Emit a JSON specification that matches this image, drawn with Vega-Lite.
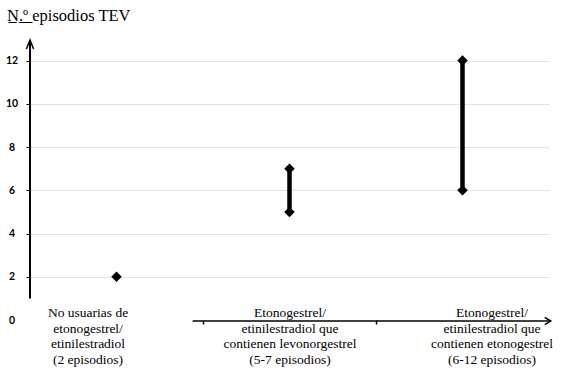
{
  "$schema": "https://vega.github.io/schema/vega-lite/v6.json",
  "width": 519,
  "height": 281,
  "autosize": "none",
  "padding": {"left": 30, "top": 39, "right": 20, "bottom": 61},
  "background": "white",
  "config": {"view": {"stroke": null}},
  "title": {
    "text": "N̲.̲º̲ episodios TEV",
    "anchor": "start",
    "frame": "group",
    "font": "Liberation Serif",
    "fontSize": 16.5,
    "fontWeight": "normal",
    "color": "black",
    "baseline": "alphabetic",
    "dx": -23,
    "offset": 0
  },
  "datasets": {
    "episodios": [
      {"grupo": "No usuarias", "episodios": 2},
      {"grupo": "Levonorgestrel", "episodios": 5},
      {"grupo": "Levonorgestrel", "episodios": 7},
      {"grupo": "Etonogestrel", "episodios": 6},
      {"grupo": "Etonogestrel", "episodios": 12}
    ],
    "etiquetas": [
      {"grupo": "No usuarias", "l1": "No usuarias de", "l2": "etonogestrel/", "l3": "etinilestradiol", "l4": "(2 episodios)"},
      {"grupo": "Levonorgestrel", "l1": "Etonogestrel/", "l2": "etinilestradiol que", "l3": "contienen levonorgestrel", "l4": "(5-7 episodios)"},
      {"grupo": "Etonogestrel", "l1": "Etonogestrel/", "l2": "etinilestradiol que", "l3": "contienen etonogestrel", "l4": "(6-12 episodios)"}
    ]
  },
  "data": {"name": "episodios"},
  "layer": [
    {
      "layer": [
        {
          "mark": {"type": "rule", "stroke": "black", "strokeWidth": 4.5},
          "encoding": {
            "x": {
              "field": "grupo",
              "type": "nominal",
              "sort": null,
              "scale": {"paddingInner": 0, "paddingOuter": 0},
              "axis": {
                "title": null,
                "domain": false,
                "bandPosition": 0,
                "ticks": true,
                "tickSize": 4,
                "tickWidth": 1.5,
                "tickColor": "black",
                "tickOpacity": {"condition": {"test": "datum.index == 0", "value": 0}, "value": 1},
                "labels": false
              }
            },
            "y": {
              "aggregate": "min",
              "field": "episodios",
              "type": "quantitative",
              "title": null,
              "scale": {"domain": [0, 13], "nice": false, "zero": true},
              "axis": {
                "title": null,
                "values": [0, 2, 4, 6, 8, 10, 12],
                "domain": false,
                "grid": true,
                "gridColor": "#e3e3e3",
                "gridWidth": 1,
                "gridOpacity": {"condition": {"test": "datum.value == 0", "value": 0}, "value": 1},
                "ticks": true,
                "tickSize": 4,
                "tickColor": "black",
                "tickOpacity": {"condition": {"test": "datum.value == 0", "value": 0}, "value": 1},
                "labelFont": "Lato",
                "labelFontWeight": "bold",
                "labelFontSize": 10.5,
                "labelColor": "black",
                "labelAlign": "center",
                "labelBaseline": "middle",
                "labelPadding": 14.5
              }
            },
            "y2": {"aggregate": "max", "field": "episodios"}
          }
        },
        {
          "mark": {"type": "point", "shape": "diamond", "filled": true, "color": "black", "size": 110, "opacity": 1},
          "encoding": {
            "x": {"field": "grupo", "type": "nominal", "sort": null},
            "y": {"field": "episodios", "type": "quantitative", "title": null}
          }
        }
      ]
    },
    {
      "data": {"name": "etiquetas"},
      "encoding": {
        "x": {"field": "grupo", "type": "nominal", "sort": null, "scale": {"range": [-43, 563], "paddingInner": 0, "paddingOuter": 0}, "axis": null},
        "y": {"datum": 0, "type": "quantitative"}
      },
      "layer": [
        {
          "mark": {"type": "text", "font": "Liberation Serif", "fontSize": 13.5, "align": "center", "baseline": "alphabetic", "dy": -3, "color": "black"},
          "encoding": {"text": {"field": "l1", "type": "nominal"}}
        },
        {
          "mark": {"type": "text", "font": "Liberation Serif", "fontSize": 13.5, "align": "center", "baseline": "alphabetic", "dy": 12.5, "color": "black"},
          "encoding": {"text": {"field": "l2", "type": "nominal"}}
        },
        {
          "mark": {"type": "text", "font": "Liberation Serif", "fontSize": 13.5, "align": "center", "baseline": "alphabetic", "dy": 28, "color": "black"},
          "encoding": {"text": {"field": "l3", "type": "nominal"}}
        },
        {
          "mark": {"type": "text", "font": "Liberation Serif", "fontSize": 13.5, "align": "center", "baseline": "alphabetic", "dy": 43.5, "color": "black"},
          "encoding": {"text": {"field": "l4", "type": "nominal"}}
        }
      ]
    },
    {
      "data": {"values": [{}]},
      "layer": [
        {
          "mark": {"type": "rule", "stroke": "black", "strokeWidth": 2},
          "encoding": {
            "x": {"datum": -0.5, "type": "quantitative", "scale": {"domain": [-0.5, 2.5], "nice": false, "zero": false}, "axis": null},
            "y": {"datum": 1, "type": "quantitative"},
            "y2": {"datum": 12.9}
          }
        },
        {
          "mark": {"type": "point", "shape": "M-0.4,1L0,0L0.4,1", "size": 324, "filled": false, "stroke": "black", "strokeWidth": 1.5, "opacity": 1},
          "encoding": {
            "x": {"datum": -0.5, "type": "quantitative", "axis": null},
            "y": {"datum": 12.95, "type": "quantitative"}
          }
        },
        {
          "mark": {"type": "rule", "stroke": "black", "strokeWidth": 1.5},
          "encoding": {
            "x": {"datum": 0.44, "type": "quantitative", "axis": null},
            "x2": {"datum": 2.5},
            "y": {"datum": -0.05, "type": "quantitative"}
          }
        },
        {
          "mark": {"type": "point", "shape": "M-1,-0.6L0,0L-1,0.6", "size": 144, "filled": false, "stroke": "black", "strokeWidth": 1.5, "opacity": 1},
          "encoding": {
            "x": {"datum": 2.51, "type": "quantitative", "axis": null},
            "y": {"datum": -0.05, "type": "quantitative"}
          }
        }
      ]
    }
  ],
  "resolve": {"scale": {"x": "independent"}}
}
